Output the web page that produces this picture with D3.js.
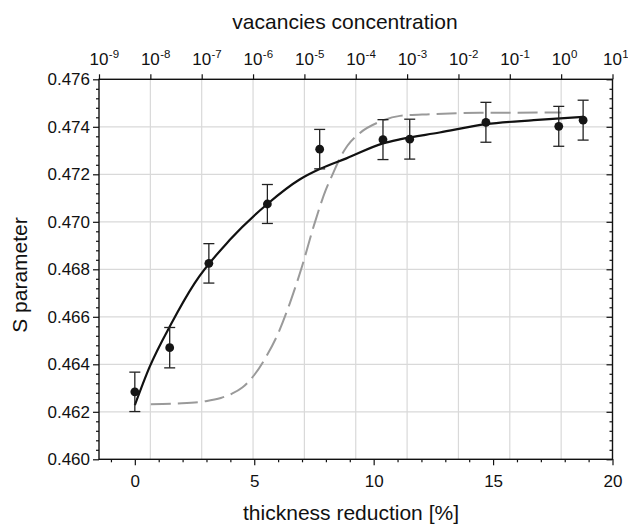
<!DOCTYPE html>
<html>
<head>
<meta charset="utf-8">
<script src="https://cdn.jsdelivr.net/npm/d3@7"></script>
<style>
  body { margin: 0; background: #fff; }
  svg text { font-family: "Liberation Sans", Arial, Helvetica, sans-serif; fill: #111; }
</style>
</head>
<body>
<svg id="chart" width="628" height="527"></svg>
<script>
  // measured points (thickness reduction [%], S parameter, error)
  var thickness = [0, 1.46, 3.10, 5.55, 7.74, 10.39, 11.51, 14.70, 17.75, 18.77];
  var sParam = [0.46284, 0.46470, 0.46825, 0.47075, 0.47306, 0.47346, 0.47348, 0.47419, 0.47402, 0.47428];
  var sErr = [0.00083, 0.00085, 0.00083, 0.00082, 0.00083, 0.00084, 0.00084, 0.00084, 0.00084, 0.00084];

  // solid line
  var fitX = [0, 0.62, 1.53, 2.50, 3.97, 5.55, 6.90, 7.74, 8.86, 10.39, 11.09, 12.76, 14.70, 16.70, 18.77];
  var fitS = [0.46228, 0.46389, 0.46572, 0.46741, 0.46923, 0.47075, 0.47178, 0.47222, 0.47267, 0.47330, 0.47347, 0.47376, 0.47411, 0.47428, 0.47442];

  // dashed line
  var modelX = [0.67, 1.8, 2.92, 3.6, 4.04, 4.5, 5.0, 5.5, 6.0, 6.5, 7.0, 7.5, 8.0, 8.3, 8.6, 8.9, 9.4, 10.25, 11.1, 12.35, 14.45, 17.85];
  var modelS = [0.46232, 0.46235, 0.46244, 0.46258, 0.46275, 0.46302, 0.46355, 0.46432, 0.46530, 0.46660, 0.46812, 0.46985, 0.47135, 0.47204, 0.47270, 0.47320, 0.47372, 0.47421, 0.47446, 0.47453, 0.47459, 0.47460];

  var xTicks = [0, 5, 10, 15, 20];
  var yTicks = [0.460, 0.462, 0.464, 0.466, 0.468, 0.470, 0.472, 0.474, 0.476];
  var concExp = [-9, -8, -7, -6, -5, -4, -3, -2, -1, 0, 1];

  var margin = { top: 79.3, right: 15.5, bottom: 67.7, left: 99 },
    width = 628 - margin.left - margin.right,
    height = 527 - margin.top - margin.bottom;

  var svg = d3.select("#chart");
  var g = svg.append("g")
    .attr("transform", "translate(" + margin.left + "," + margin.top + ")");

  var x = d3.scaleLinear().domain([-1.5, 20]).range([0, width]);
  var xTop = d3.scaleLog().domain([1e-9, 10]).range([0, width]);
  var y = d3.scaleLinear().domain([0.460, 0.476]).range([height, 0]);

  // grid lines
  var gridColor = "#d9d9d9";
  g.selectAll(".vgrid")
    .data(concExp.slice(1, -1))
    .enter().append("line")
    .attr("x1", function (d) { return xTop(Math.pow(10, d)); })
    .attr("x2", function (d) { return xTop(Math.pow(10, d)); })
    .attr("y1", 0).attr("y2", height)
    .attr("stroke", gridColor).attr("stroke-width", 1.2);
  g.selectAll(".hgrid")
    .data(yTicks.slice(1, -1))
    .enter().append("line")
    .attr("x1", 0).attr("x2", width)
    .attr("y1", function (d) { return y(d); })
    .attr("y2", function (d) { return y(d); })
    .attr("stroke", gridColor).attr("stroke-width", 1.2);

  // minor tick values
  var xMinor = d3.range(-1, 20, 1).filter(function (v) { return v % 5 !== 0; });
  var yMinor = d3.range(0, 41).map(function (i) { return 0.460 + i * 0.0004; })
    .filter(function (v, i) { return i % 5 !== 0; });

  function styleAxis(sel) {
    sel.select(".domain").remove();
    sel.selectAll("line").attr("stroke", "#111").attr("stroke-width", 1.2);
    sel.selectAll("text").attr("font-size", "17px").attr("fill", "#111");
  }

  // bottom axis
  g.append("g").attr("transform", "translate(0," + height + ")")
    .call(d3.axisBottom(x).tickValues(xTicks).tickSize(6).tickPadding(9.5).tickFormat(d3.format("d")))
    .call(styleAxis);
  g.append("g").attr("transform", "translate(0," + height + ")")
    .call(d3.axisBottom(x).tickValues(xMinor).tickSize(3).tickFormat(""))
    .call(styleAxis);

  // left axis
  g.append("g")
    .call(d3.axisLeft(y).tickValues(yTicks).tickSize(6).tickPadding(3).tickFormat(d3.format(".3f")))
    .call(styleAxis);
  g.append("g")
    .call(d3.axisLeft(y).tickValues(yMinor).tickSize(3).tickFormat(""))
    .call(styleAxis);

  // right axis (ticks inside)
  g.append("g").attr("transform", "translate(" + width + ",0)")
    .call(d3.axisLeft(y).tickValues(yTicks).tickSize(6).tickFormat(""))
    .call(styleAxis);
  g.append("g").attr("transform", "translate(" + width + ",0)")
    .call(d3.axisLeft(y).tickValues(yMinor).tickSize(3).tickFormat(""))
    .call(styleAxis);

  // top axis, log decades
  g.append("g")
    .call(d3.axisTop(xTop).tickValues(concExp.map(function (e) { return Math.pow(10, e); }))
      .tickSize(5).tickFormat(""))
    .call(styleAxis);
  var topLab = g.selectAll(".toplab")
    .data(concExp)
    .enter().append("g")
    .attr("transform", function (d) { return "translate(" + xTop(Math.pow(10, d)) + "," + (-14.3) + ")"; });
  topLab.append("text")
    .attr("text-anchor", "middle")
    .attr("font-size", "17px")
    .text("10");
  topLab.append("text")
    .attr("x", 9.8)
    .attr("y", -7.5)
    .attr("font-size", "11.5px")
    .text(function (d) { return d; });

  // frame
  g.append("rect")
    .attr("width", width).attr("height", height)
    .attr("fill", "none").attr("stroke", "#111").attr("stroke-width", 1.4);

  // dashed line
  var curveLine = d3.line()
    .x(function (d) { return x(d[0]); })
    .y(function (d) { return y(d[1]); })
    .curve(d3.curveMonotoneX);
  g.append("path")
    .datum(d3.zip(modelX, modelS))
    .attr("d", curveLine)
    .attr("fill", "none")
    .attr("stroke", "#9a9a9a")
    .attr("stroke-width", 2)
    .attr("stroke-dasharray", "20,7");

  // solid line
  g.append("path")
    .datum(d3.zip(fitX, fitS))
    .attr("d", curveLine)
    .attr("fill", "none")
    .attr("stroke", "#111")
    .attr("stroke-width", 2.2);

  // error bars
  var pts = d3.zip(thickness, sParam, sErr);
  var cap = 5.5;
  var eb = g.selectAll(".err").data(pts).enter().append("g").attr("class", "err");
  eb.append("line")
    .attr("x1", function (d) { return x(d[0]); })
    .attr("x2", function (d) { return x(d[0]); })
    .attr("y1", function (d) { return y(d[1] + d[2]); })
    .attr("y2", function (d) { return y(d[1] - d[2]); })
    .attr("stroke", "#222").attr("stroke-width", 1.3);
  eb.append("line")
    .attr("x1", function (d) { return x(d[0]) - cap; })
    .attr("x2", function (d) { return x(d[0]) + cap; })
    .attr("y1", function (d) { return y(d[1] + d[2]); })
    .attr("y2", function (d) { return y(d[1] + d[2]); })
    .attr("stroke", "#222").attr("stroke-width", 1.3);
  eb.append("line")
    .attr("x1", function (d) { return x(d[0]) - cap; })
    .attr("x2", function (d) { return x(d[0]) + cap; })
    .attr("y1", function (d) { return y(d[1] - d[2]); })
    .attr("y2", function (d) { return y(d[1] - d[2]); })
    .attr("stroke", "#222").attr("stroke-width", 1.3);

  // points
  g.selectAll(".pt").data(pts).enter().append("circle")
    .attr("cx", function (d) { return x(d[0]); })
    .attr("cy", function (d) { return y(d[1]); })
    .attr("r", 4.4)
    .attr("fill", "#151515");

  // titles
  svg.append("text")
    .attr("x", 345).attr("y", 29.3)
    .attr("text-anchor", "middle")
    .attr("font-size", "21px")
    .text("vacancies concentration");
  svg.append("text")
    .attr("x", 351).attr("y", 520)
    .attr("text-anchor", "middle")
    .attr("font-size", "21px")
    .text("thickness reduction [%]");
  svg.append("text")
    .attr("transform", "translate(26.7," + 275 + ") rotate(-90)")
    .attr("text-anchor", "middle")
    .attr("font-size", "21px")
    .text("S parameter");
</script>
</body>
</html>
